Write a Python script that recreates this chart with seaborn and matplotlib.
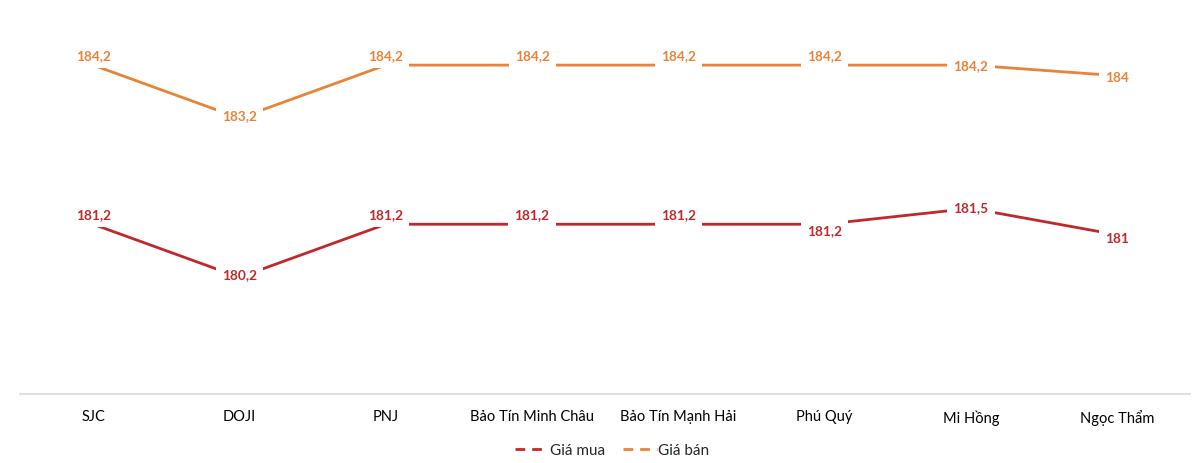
import matplotlib.pyplot as plt
import pandas as pd
import seaborn as sns
from matplotlib.lines import Line2D

categories = ['SJC', 'DOJI', 'PNJ', 'Bảo Tín Minh Châu', 'Bảo Tín Mạnh Hải', 'Phú Quý', 'Mi Hồng', 'Ngọc Thẩm']
gia_mua = [181.2, 180.2, 181.2, 181.2, 181.2, 181.2, 181.5, 181.0]
gia_ban = [184.2, 183.2, 184.2, 184.2, 184.2, 184.2, 184.2, 184.0]

# vertical label offsets (points) per category
mua_offsets = [7, 2.5, 7, 7, 7, -4, 1, -2]
ban_offsets = [7, 2.5, 7, 7, 7, 7, 0, -1]

red = '#C0282C'
orange = '#E8833A'

sns.set_theme(style='white')
plt.rcParams['font.family'] = ['Lato', 'DejaVu Sans']

df = pd.DataFrame({
    'cat': categories * 2,
    'x': list(range(len(categories))) * 2,
    'value': gia_mua + gia_ban,
    'series': ['Giá mua'] * len(categories) + ['Giá bán'] * len(categories),
})

fig = plt.figure(figsize=(12, 4.64), dpi=100)
ax = fig.add_axes([0.0167, 0.1487, 0.9753, 0.83])

sns.lineplot(data=df, x='x', y='value', hue='series', palette=[red, orange],
             linewidth=2, ax=ax, legend=False, zorder=2)

def fmt(v):
    s = f'{v:.1f}'
    if s.endswith('.0'):
        s = s[:-2]
    return s.replace('.', ',')

for vals, offs, col in [(gia_mua, mua_offsets, red), (gia_ban, ban_offsets, orange)]:
    for i, (v, o) in enumerate(zip(vals, offs)):
        ax.annotate(fmt(v), (i, v), xytext=(0, o), textcoords='offset points',
                    ha='center', va='center', fontsize=9.8, fontweight='bold', color=col,
                    bbox=dict(boxstyle='square,pad=0.45', fc='white', ec='none'), zorder=5)

ax.set_xlim(-0.5, len(categories) - 0.5)
ax.set_ylim(178, 185.26)
ax.set_xticks(range(len(categories)))
ax.set_xticklabels(categories, fontsize=10.5, color='black')
ax.tick_params(axis='x', length=0, pad=11)
ax.set_yticks([])
ax.set_xlabel('')
ax.set_ylabel('')
for s in ['top', 'left', 'right']:
    ax.spines[s].set_visible(False)
ax.spines['bottom'].set_color('#D9D9D9')
ax.spines['bottom'].set_linewidth(1.2)

handles = [Line2D([], [], color=red, lw=2, linestyle=(0, (3.5, 2.5))),
           Line2D([], [], color=orange, lw=2, linestyle=(0, (3.5, 2.5)))]
fig.legend(handles, ['Giá mua', 'Giá bán'], loc='center', bbox_to_anchor=(0.51, 0.027),
           ncol=2, frameon=False, fontsize=11, handlelength=2.2, handletextpad=0.1,
           columnspacing=1.2)

fig.savefig('out.png', dpi=100)
